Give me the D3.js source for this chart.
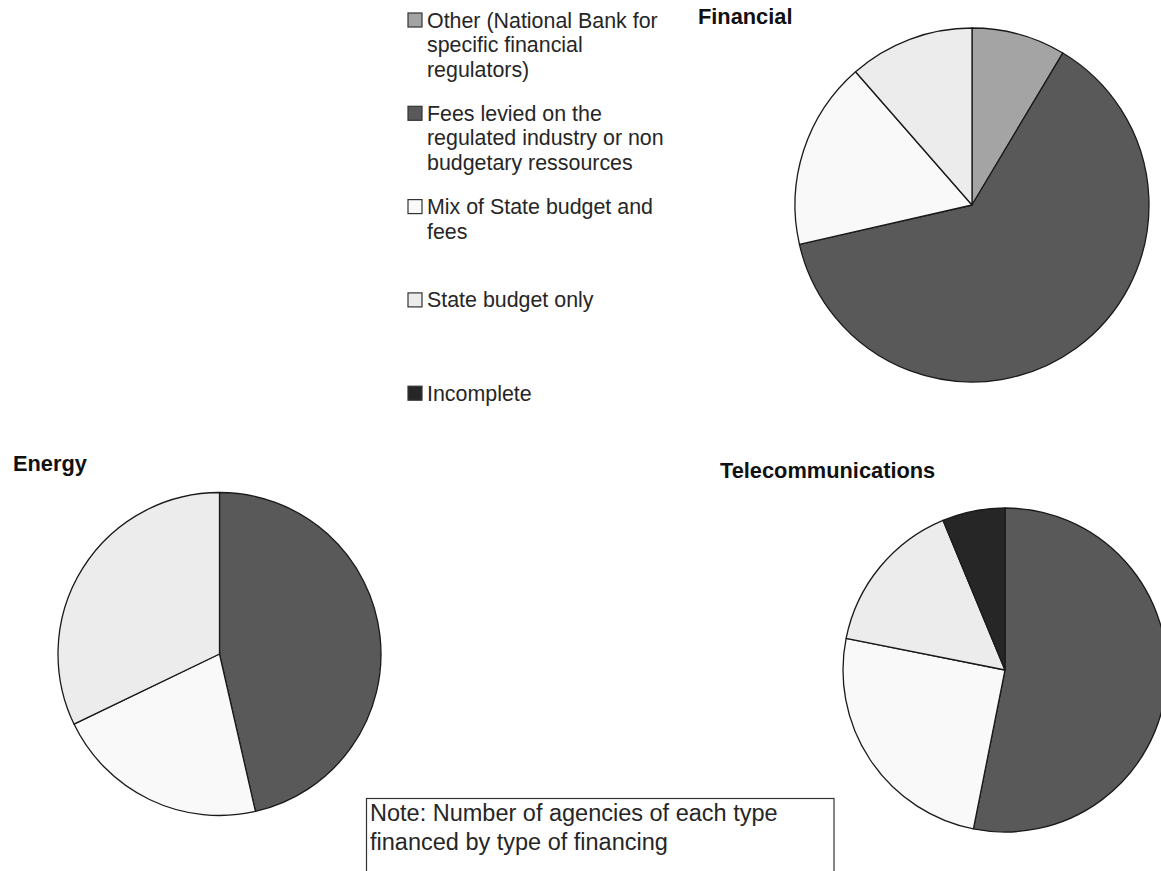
<!DOCTYPE html>
<html>
<head>
<meta charset="utf-8">
<script src="https://cdn.jsdelivr.net/npm/d3@7"></script>
<style>
  html, body { margin: 0; padding: 0; background: #fff; }
  svg { display: block; font-family: "Liberation Sans", Arial, sans-serif; }
</style>
</head>
<body>
<svg id="chart" width="1161" height="871"></svg>
<script>
// ---- data ----
const categories = [
  "Other (National Bank for specific financial regulators)",
  "Fees levied on the regulated industry or non budgetary ressources",
  "Mix of State budget and fees",
  "State budget only",
  "Incomplete"
];
const colors = ["#a4a4a4", "#595959", "#f9f9f9", "#ececec", "#262626"];
const sectors = ["Financial", "Energy", "Telecommunications"];
const financialValues = [3, 22, 6, 4, 0];
const energyValues = [0, 13, 6, 9, 0];
const telecomValues = [0, 17, 8, 5, 2];
const noteLines = ["Note: Number of agencies of each type", "financed by type of financing"];

// ---- layout ----
const svg = d3.select("#chart");
const color = d3.scaleOrdinal().domain(categories).range(colors);

const pies = [
  { title: sectors[0], values: financialValues, cx: 972, cy: 205, r: 177, tx: 698, ty: 24 },
  { title: sectors[1], values: energyValues, cx: 219.5, cy: 654, r: 161.5, tx: 13, ty: 471 },
  { title: sectors[2], values: telecomValues, cx: 1005, cy: 670, r: 162, tx: 720, ty: 478 }
];

const pieGen = d3.pie().sort(null).value(d => d.v);

pies.forEach(p => {
  const data = p.values.map((v, i) => ({ cat: categories[i], v }));
  const arc = d3.arc().innerRadius(0).outerRadius(p.r);
  const g = svg.append("g").attr("transform", `translate(${p.cx},${p.cy})`);
  g.selectAll("path")
    .data(pieGen(data).filter(a => a.data.v > 0))
    .join("path")
    .attr("d", arc)
    .attr("fill", a => color(a.data.cat))
    .attr("stroke", "#1a1a1a")
    .attr("stroke-width", 1.3)
    .attr("stroke-linejoin", "round");
  svg.append("text")
    .attr("x", p.tx).attr("y", p.ty)
    .attr("font-size", 21.8)
    .attr("font-weight", "bold")
    .attr("fill", "#111")
    .text(p.title);
});

// ---- legend ----
const legend = svg.append("g");
const legX = 408, legY0 = 20, legStep = 93.3, lineH = 24.5, wrapW = 245;
categories.forEach((c, i) => {
  const cy = legY0 + i * legStep;
  legend.append("rect")
    .attr("x", legX).attr("y", cy - 7)
    .attr("width", 14).attr("height", 14)
    .attr("fill", color(c))
    .attr("stroke", "#333").attr("stroke-width", 1.2);
  const t = legend.append("text")
    .attr("x", legX + 19).attr("y", cy + 7.5)
    .attr("font-size", 21.4)
    .attr("fill", "#262626");
  const words = c.split(" ");
  let line = [];
  let ts = t.append("tspan").attr("x", legX + 19).attr("dy", 0);
  words.forEach(w => {
    line.push(w);
    ts.text(line.join(" "));
    if (ts.node().getComputedTextLength() > wrapW && line.length > 1) {
      line.pop();
      ts.text(line.join(" "));
      line = [w];
      ts = t.append("tspan").attr("x", legX + 19).attr("dy", lineH).text(w);
    }
  });
});

// ---- note box ----
svg.append("rect")
  .attr("x", 366.5).attr("y", 798.5)
  .attr("width", 467.5).attr("height", 100)
  .attr("fill", "#fff")
  .attr("stroke", "#333").attr("stroke-width", 1.2);
svg.append("g").selectAll("text")
  .data(noteLines)
  .join("text")
  .attr("x", 370)
  .attr("y", (d, i) => 821 + i * 28.5)
  .attr("font-size", 23.5)
  .attr("fill", "#262626")
  .text(d => d);
</script>
</body>
</html>
